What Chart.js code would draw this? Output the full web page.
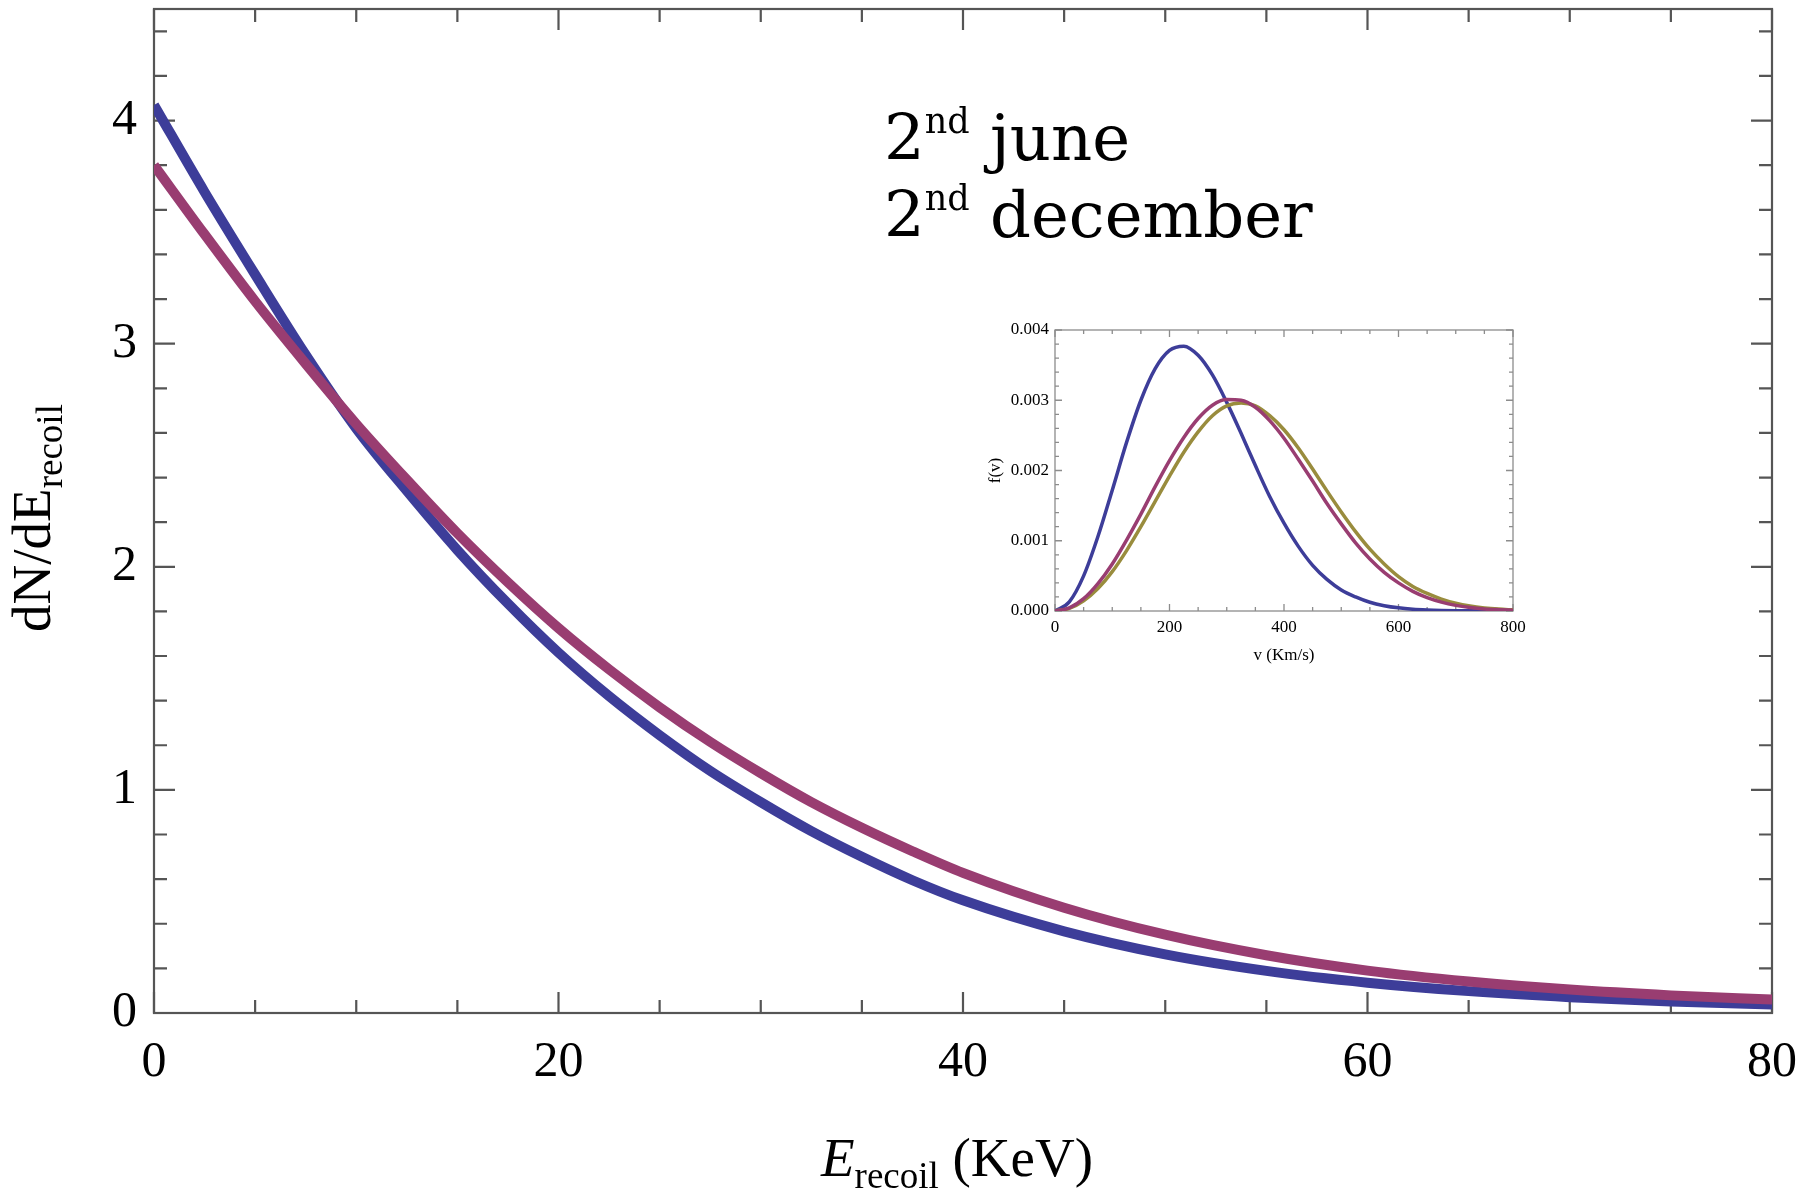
<!DOCTYPE html>
<html>
<head>
<meta charset="utf-8">
<title>recoil spectrum</title>
<script src="https://cdn.jsdelivr.net/npm/chart.js@4.4.1/dist/chart.umd.min.js"></script>
<style>
  html, body { margin: 0; padding: 0; background: #fff; }
  #wrap { position: relative; width: 1818px; height: 1189px; }
  #mainChart { position: absolute; left: 0; top: 0; }
  #insetChart { position: absolute; left: 960px; top: 300px; }
</style>
</head>
<body>
<div id="wrap">
  <canvas id="mainChart" width="1818" height="1189"></canvas>
  <canvas id="insetChart" width="580" height="390"></canvas>
</div>
<script>
// main plot: recoil energy (KeV) and the two rate curves
const energy = [0, 2.5, 5, 7.5, 10, 12.5, 15, 17.5, 20, 22.5, 25, 27.5, 30, 32.5, 35, 37.5, 40, 45, 50, 55, 60, 65, 70, 75, 80];
const blueCurve = [4.07, 3.68, 3.31, 2.95, 2.62, 2.34, 2.075, 1.835, 1.615, 1.42, 1.245, 1.085, 0.945, 0.815, 0.70, 0.595, 0.505, 0.366, 0.263, 0.189, 0.136, 0.098, 0.071, 0.052, 0.038];
const redCurve = [3.80, 3.49, 3.19, 2.91, 2.64, 2.39, 2.15, 1.93, 1.725, 1.54, 1.37, 1.215, 1.075, 0.945, 0.83, 0.725, 0.628, 0.472, 0.351, 0.259, 0.19, 0.141, 0.105, 0.079, 0.06];

// inset: speed distribution f(v)
const speed = [0, 25, 50, 75, 100, 125, 150, 175, 200, 225, 250, 275, 300, 325, 350, 375, 400, 425, 450, 475, 500, 525, 550, 575, 600, 625, 650, 675, 700, 725, 750, 775, 800];
const fBlue = [0, 0.00013, 0.0005, 0.00106, 0.00172, 0.0024, 0.003, 0.00345, 0.00371, 0.00377, 0.00364, 0.00336, 0.00297, 0.00253, 0.00207, 0.00163, 0.00125, 0.00092, 0.00065, 0.00045, 0.0003, 0.0002, 0.000124, 0.000076, 0.000045, 0.000026, 0.000015, 0.000008, 0.000004, 0.000002, 0.000001, 0, 0];
const fRed = [0, 0.000044, 0.000175, 0.00039, 0.00067, 0.00101, 0.00138, 0.00177, 0.00214, 0.00247, 0.00274, 0.00293, 0.00301, 0.003, 0.0029, 0.00271, 0.00246, 0.00216, 0.00185, 0.00153, 0.00124, 0.00097, 0.00074, 0.00055, 0.0004, 0.00028, 0.00019, 0.000126, 0.00008, 0.00005, 0.00003, 0.000019, 0.000011];
const fOlive = [0, 0.000036, 0.000145, 0.00032, 0.00056, 0.00086, 0.0012, 0.00156, 0.00192, 0.00226, 0.00255, 0.00278, 0.00292, 0.00296, 0.00292, 0.00278, 0.00258, 0.00232, 0.00202, 0.00171, 0.00141, 0.00113, 0.00088, 0.00067, 0.00049, 0.00035, 0.00025, 0.00017, 0.00011, 0.00007, 0.000044, 0.000027, 0.000016];

const xTitle = ["E", "recoil", " (KeV)"];
const yTitle = ["dN/dE", "recoil"];
const noteLines = ["june", "december"];

const blue = "rgb(61, 61, 153)";
const red = "rgb(153, 61, 113)";
const olive = "rgb(153, 140, 61)";
const serif = "'Liberation Serif', 'Times New Roman', serif";

function points(xs, ys) {
    return xs.map((x, i) => ({ x: x, y: ys[i] }));
}

// mathematica style frame with inward ticks on all four sides
const frameTicks = {
    id: "frameTicks",
    beforeDatasetsDraw(chart, args, o) {
        const ctx = chart.ctx;
        const a = chart.chartArea;
        const xs = chart.scales.x;
        const ys = chart.scales.y;
        const isMajor = (v, step) => Math.abs(v / step - Math.round(v / step)) < 1e-6;
        ctx.save();
        ctx.strokeStyle = o.color;
        ctx.lineWidth = o.width;
        ctx.beginPath();
        let n = Math.floor((xs.max - xs.min) / o.xMinor + 1e-6);
        for (let i = 0; i <= n; i++) {
            let v = xs.min + i * o.xMinor;
            let px = xs.getPixelForValue(v);
            let len = isMajor(v, o.xMajor) ? o.major : o.minor;
            ctx.moveTo(px, a.bottom);
            ctx.lineTo(px, a.bottom - len);
            ctx.moveTo(px, a.top);
            ctx.lineTo(px, a.top + len);
        }
        n = Math.floor((ys.max - ys.min) / o.yMinor + 1e-6);
        for (let i = 0; i <= n; i++) {
            let v = ys.min + i * o.yMinor;
            let py = ys.getPixelForValue(v);
            let len = isMajor(v, o.yMajor) ? o.major : o.minor;
            ctx.moveTo(a.left, py);
            ctx.lineTo(a.left + len, py);
            ctx.moveTo(a.right, py);
            ctx.lineTo(a.right - len, py);
        }
        ctx.stroke();
        ctx.strokeRect(a.left, a.top, a.right - a.left, a.bottom - a.top);
        ctx.restore();
    }
};

const bigSerif = "55px " + serif;
const subSerif = "37px " + serif;
const noteFont = "64px 'DejaVu Serif', serif";
const noteSup = "35px 'DejaVu Serif', serif";

// axis titles and the two labels, with sub/superscripts
const textItems = [
    { x: 957, y: 1176, center: true, parts: [
        { text: xTitle[0], font: "italic " + bigSerif, shift: 0 },
        { text: xTitle[1], font: subSerif, shift: 12 },
        { text: xTitle[2], font: bigSerif, shift: 0 }
    ] },
    { x: 50, y: 518, center: true, rotate: -Math.PI / 2, parts: [
        { text: yTitle[0], font: bigSerif, shift: 0 },
        { text: yTitle[1], font: subSerif, shift: 12 }
    ] },
    { x: 884, y: 160, parts: [
        { text: "2", font: noteFont, shift: 0 },
        { text: "nd", font: noteSup, shift: -27 },
        { text: " " + noteLines[0], font: noteFont, shift: 0 }
    ] },
    { x: 884, y: 237, parts: [
        { text: "2", font: noteFont, shift: 0 },
        { text: "nd", font: noteSup, shift: -27 },
        { text: " " + noteLines[1], font: noteFont, shift: 0 }
    ] }
];

const richText = {
    id: "richText",
    afterDraw(chart) {
        const ctx = chart.ctx;
        textItems.forEach(item => {
            ctx.save();
            ctx.translate(item.x, item.y);
            if (item.rotate) ctx.rotate(item.rotate);
            ctx.fillStyle = "#000";
            ctx.textBaseline = "alphabetic";
            ctx.textAlign = "left";
            let w = 0;
            item.parts.forEach(p => { ctx.font = p.font; w += ctx.measureText(p.text).width; });
            let cx = item.center ? -w / 2 : 0;
            item.parts.forEach(p => {
                ctx.font = p.font;
                ctx.fillText(p.text, cx, p.shift);
                cx += ctx.measureText(p.text).width;
            });
            ctx.restore();
        });
    }
};

new Chart(document.getElementById("mainChart"), {
    type: "line",
    data: {
        datasets: [
            { data: points(energy, redCurve), borderColor: red, borderWidth: 10 },
            { data: points(energy, blueCurve), borderColor: blue, borderWidth: 10 }
        ]
    },
    options: {
        responsive: false,
        animation: false,
        devicePixelRatio: 1,
        elements: { point: { radius: 0 }, line: { cubicInterpolationMode: "monotone", fill: false } },
        layout: { padding: { left: 0, top: 9, right: 46, bottom: 0 } },
        plugins: {
            legend: { display: false },
            tooltip: { enabled: false },
            frameTicks: { color: "#555", width: 2.2, major: 21, minor: 13, xMinor: 5, xMajor: 20, yMinor: 0.2, yMajor: 1 }
        },
        scales: {
            x: {
                type: "linear", min: 0, max: 80,
                afterFit: s => { s.height = 176; s.paddingLeft = 0; s.paddingRight = 0; },
                grid: { display: false, drawTicks: false },
                border: { display: false },
                ticks: { stepSize: 20, padding: 20, autoSkip: false, maxRotation: 0, color: "#000", font: { family: serif, size: 50 } }
            },
            y: {
                type: "linear", min: 0, max: 4.5,
                afterFit: s => { s.width = 154; s.paddingTop = 0; s.paddingBottom = 0; },
                grid: { display: false, drawTicks: false },
                border: { display: false },
                ticks: { stepSize: 1, padding: 17, autoSkip: false, color: "#000", font: { family: serif, size: 50 },
                    callback: v => Number.isInteger(v) ? v : "" }
            }
        }
    },
    plugins: [frameTicks, richText]
});

new Chart(document.getElementById("insetChart"), {
    type: "line",
    data: {
        datasets: [
            { data: points(speed, fRed), borderColor: red, borderWidth: 3.5 },
            { data: points(speed, fOlive), borderColor: olive, borderWidth: 3.5 },
            { data: points(speed, fBlue), borderColor: blue, borderWidth: 3.5 }
        ]
    },
    options: {
        responsive: false,
        animation: false,
        devicePixelRatio: 1,
        elements: { point: { radius: 0 }, line: { cubicInterpolationMode: "monotone", fill: false } },
        layout: { padding: { left: 0, top: 30, right: 27, bottom: 0 } },
        plugins: {
            legend: { display: false },
            tooltip: { enabled: false },
            frameTicks: { color: "#8c8c8c", width: 1.3, major: 7, minor: 4, xMinor: 50, xMajor: 200, yMinor: 0.0002, yMajor: 0.001 }
        },
        scales: {
            x: {
                type: "linear", min: 0, max: 800,
                afterFit: s => { s.height = 79; },
                grid: { display: false, drawTicks: false },
                border: { display: false },
                ticks: { stepSize: 200, padding: 6, autoSkip: false, maxRotation: 0, color: "#000", font: { family: serif, size: 17 } },
                title: { display: true, text: "v (Km/s)", color: "#000", font: { family: serif, size: 17 }, padding: { top: 0, bottom: 24 } }
            },
            y: {
                type: "linear", min: 0, max: 0.004,
                afterFit: s => { s.width = 95; },
                grid: { display: false, drawTicks: false },
                border: { display: false },
                ticks: { stepSize: 0.001, padding: 6, autoSkip: false, color: "#000", font: { family: serif, size: 17 },
                    callback: v => v.toFixed(3) },
                title: { display: true, text: "f(v)", color: "#000", font: { family: serif, size: 17 }, padding: { top: 25, bottom: 0 } }
            }
        }
    },
    plugins: [frameTicks]
});
</script>
</body>
</html>
